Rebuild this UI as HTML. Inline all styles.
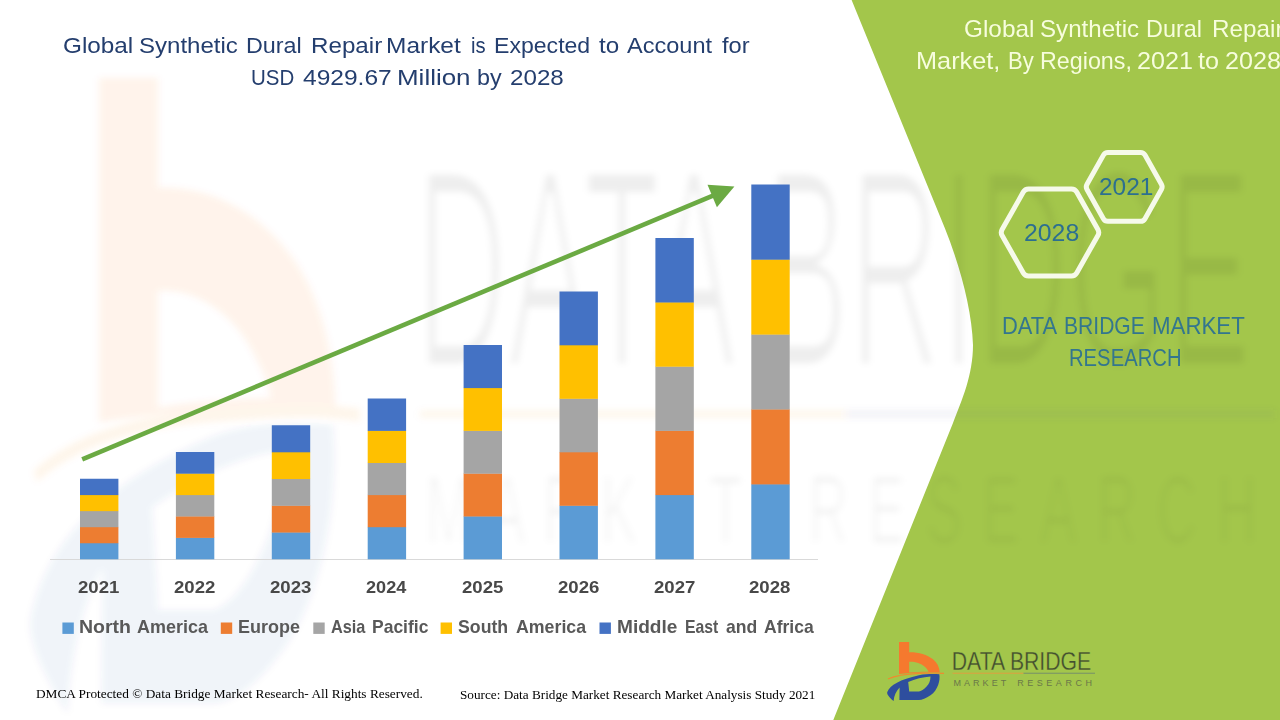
<!DOCTYPE html>
<html>
<head>
<meta charset="utf-8">
<title>Global Synthetic Dural Repair Market</title>
<style>
html,body{margin:0;padding:0;}
body{width:1280px;height:720px;position:relative;overflow:hidden;background:#fff;font-family:"Liberation Sans",sans-serif;}
#shapes{position:absolute;left:0;top:0;width:1280px;height:720px;}
.t{position:absolute;white-space:nowrap;line-height:1;transform-origin:0 0;margin:0;padding:0;}
.title{color:#243E6E;font-size:22.5px;}
.rtitle{color:#F7FDDD;font-size:23.2px;}
.hex{color:#2C6F90;font-size:23.8px;}
.dbmr{color:#33768E;font-size:23.7px;}
.yr{color:#484848;font-weight:bold;font-size:16.8px;}
.lg{color:#595959;font-weight:bold;font-size:17.8px;}
.ft{font-family:"Liberation Serif",serif;color:#000;font-size:13.33px;}
</style>
</head>
<body>
<svg id="shapes" width="1280" height="720" viewBox="0 0 1280 720">
  <defs>
    <filter id="wblur" x="-5%" y="-5%" width="110%" height="110%"><feGaussianBlur stdDeviation="0.6 0.3"/></filter>
    <filter id="thin2" x="-2%" y="-20%" width="104%" height="140%"><feMorphology operator="erode" radius="0.12 0.06"/></filter>
    <filter id="thin" x="-2%" y="-10%" width="104%" height="120%"><feMorphology operator="erode" radius="0.42 0.2"/></filter>
    <g id="mark">
      <!-- orange b -->
      <path fill="#F5792E" fill-rule="evenodd" d="M899,642 L909.2,642 L909.2,652.2 C918,652 927,654.4 933,659.2 C937,662.5 939.5,667 939.8,672.6 C928,672.4 912,672.9 899,674 Z M909.2,661.8 C915,661.5 921,663.5 924.5,666.5 C926.5,668.3 928,670 928.6,671.7 C921,671.8 915,672.1 909.2,672.6 Z"/>
      <path fill="none" stroke="#F08A2E" stroke-width="1.2" d="M888,679 C895,675.6 905,673.9 920,673.3 S938,672.9 944,673.3"/>
    </g>
    <g id="markB">
      <path fill="#2E4E9E" fill-rule="evenodd" d="M893.6,701.1 C889,697 886.5,694 887.3,691.9 C890,685 900,679.5 918.9,675.2 C926,673.9 933,673.9 939.3,674.2 C940.5,680 938,690 930.5,695.3 C926,698.5 922,700 918.9,700.1 L899.4,700.1 L899.6,687.5 C896,691 894,696 893.6,701.1 Z M908.2,681.9 C915,679.2 923,677.2 930.5,676.6 C930.5,681 929,684 926.6,686.5 C924,689.5 921,691 918.9,691.4 L909.2,691.4 Z"/>
    </g>
    <g id="marktext1">
      <text x="951.8" y="669.5" font-family="'Liberation Sans',sans-serif" font-size="26" textLength="139.35" lengthAdjust="spacingAndGlyphs">DATA BRIDGE</text>
    </g>
    <g id="marktext2">
      <text x="953.5" y="686" font-family="'Liberation Sans',sans-serif" font-size="9" textLength="52.7" lengthAdjust="spacing">MARKET</text>
      <text x="1017.3" y="686" font-family="'Liberation Sans',sans-serif" font-size="9" textLength="74.6" lengthAdjust="spacing">RESEARCH</text>
    </g>
  </defs>
  <!-- green panel -->
  <path d="M851.6,0 L944.8,228 C960,266 972,310 973,345 C973,375 962,400 953,423 L833.3,720 L1280,720 L1280,0 Z" fill="#A3C64B"/>
  <!-- watermark -->
  <g transform="matrix(5.8 0 0 10.77 -5115.2 -6836.5)" filter="url(#wblur)">
    <use href="#mark" opacity="0.08"/><use href="#markB" opacity="0.06"/>
  </g>
  <g transform="matrix(6 0 0 10.77 -5295 -6845.2)" filter="url(#wblur)">
    <g fill="#30302C" opacity="0.068"><g filter="url(#thin)"><use href="#marktext1"/></g></g>
    <g fill="#30302C" opacity="0.05"><g filter="url(#thin2)"><use href="#marktext2"/></g></g>
    <rect x="952.5" y="673.65" width="71" height="0.75" fill="#E08A2E" opacity="0.07"/>
    <rect x="1023.5" y="673.65" width="71.5" height="0.75" fill="#51678F" opacity="0.07"/>
  </g>
  <!-- axis -->
  <line x1="50" y1="559.5" x2="818" y2="559.5" stroke="#D9D9D9" stroke-width="1"/>
  <g>
    <rect x="80.0" y="542.95" width="38.4" height="16.35" fill="#5B9BD5"/>
    <rect x="80.0" y="526.90" width="38.4" height="16.35" fill="#ED7D31"/>
    <rect x="80.0" y="510.85" width="38.4" height="16.35" fill="#A5A5A5"/>
    <rect x="80.0" y="494.80" width="38.4" height="16.35" fill="#FFC000"/>
    <rect x="80.0" y="478.75" width="38.4" height="16.35" fill="#4472C4"/>
    <rect x="175.9" y="537.60" width="38.4" height="21.70" fill="#5B9BD5"/>
    <rect x="175.9" y="516.20" width="38.4" height="21.70" fill="#ED7D31"/>
    <rect x="175.9" y="494.80" width="38.4" height="21.70" fill="#A5A5A5"/>
    <rect x="175.9" y="473.40" width="38.4" height="21.70" fill="#FFC000"/>
    <rect x="175.9" y="452.00" width="38.4" height="21.70" fill="#4472C4"/>
    <rect x="271.8" y="532.25" width="38.4" height="27.05" fill="#5B9BD5"/>
    <rect x="271.8" y="505.50" width="38.4" height="27.05" fill="#ED7D31"/>
    <rect x="271.8" y="478.75" width="38.4" height="27.05" fill="#A5A5A5"/>
    <rect x="271.8" y="452.00" width="38.4" height="27.05" fill="#FFC000"/>
    <rect x="271.8" y="425.25" width="38.4" height="27.05" fill="#4472C4"/>
    <rect x="367.7" y="526.90" width="38.4" height="32.40" fill="#5B9BD5"/>
    <rect x="367.7" y="494.80" width="38.4" height="32.40" fill="#ED7D31"/>
    <rect x="367.7" y="462.70" width="38.4" height="32.40" fill="#A5A5A5"/>
    <rect x="367.7" y="430.60" width="38.4" height="32.40" fill="#FFC000"/>
    <rect x="367.7" y="398.50" width="38.4" height="32.40" fill="#4472C4"/>
    <rect x="463.6" y="516.20" width="38.4" height="43.10" fill="#5B9BD5"/>
    <rect x="463.6" y="473.40" width="38.4" height="43.10" fill="#ED7D31"/>
    <rect x="463.6" y="430.60" width="38.4" height="43.10" fill="#A5A5A5"/>
    <rect x="463.6" y="387.80" width="38.4" height="43.10" fill="#FFC000"/>
    <rect x="463.6" y="345.00" width="38.4" height="43.10" fill="#4472C4"/>
    <rect x="559.5" y="505.50" width="38.4" height="53.80" fill="#5B9BD5"/>
    <rect x="559.5" y="452.00" width="38.4" height="53.80" fill="#ED7D31"/>
    <rect x="559.5" y="398.50" width="38.4" height="53.80" fill="#A5A5A5"/>
    <rect x="559.5" y="345.00" width="38.4" height="53.80" fill="#FFC000"/>
    <rect x="559.5" y="291.50" width="38.4" height="53.80" fill="#4472C4"/>
    <rect x="655.4" y="494.80" width="38.4" height="64.50" fill="#5B9BD5"/>
    <rect x="655.4" y="430.60" width="38.4" height="64.50" fill="#ED7D31"/>
    <rect x="655.4" y="366.40" width="38.4" height="64.50" fill="#A5A5A5"/>
    <rect x="655.4" y="302.20" width="38.4" height="64.50" fill="#FFC000"/>
    <rect x="655.4" y="238.00" width="38.4" height="64.50" fill="#4472C4"/>
    <rect x="751.3" y="484.10" width="38.4" height="75.20" fill="#5B9BD5"/>
    <rect x="751.3" y="409.20" width="38.4" height="75.20" fill="#ED7D31"/>
    <rect x="751.3" y="334.30" width="38.4" height="75.20" fill="#A5A5A5"/>
    <rect x="751.3" y="259.40" width="38.4" height="75.20" fill="#FFC000"/>
    <rect x="751.3" y="184.50" width="38.4" height="75.20" fill="#4472C4"/>
  </g>
  <g>
    <rect x="62.4" y="622.5" width="11.4" height="11.4" fill="#5B9BD5"/>
    <rect x="220.8" y="622.5" width="11.4" height="11.4" fill="#ED7D31"/>
    <rect x="313.3" y="622.5" width="11.4" height="11.4" fill="#A5A5A5"/>
    <rect x="440.6" y="622.5" width="11.4" height="11.4" fill="#FFC000"/>
    <rect x="599.5" y="622.5" width="11.4" height="11.4" fill="#4472C4"/>
  </g>
  <!-- arrow -->
  <line x1="82.2" y1="459.4" x2="716" y2="194.4" stroke="#6BAA43" stroke-width="4.6"/>
  <polygon points="734.4,186.6 707.5,184.8 716.9,207.2" fill="#6BAA43"/>
  <!-- hexagons -->
  <path d="M1002.1,235.5 Q1000.4,232.5 1002.1,229.5 L1023.3,192.1 Q1025.0,189.1 1028.5,189.1 L1071.5,189.1 Q1075.0,189.1 1076.7,192.1 L1097.9,229.5 Q1099.6,232.5 1097.9,235.5 L1076.7,272.9 Q1075.0,275.9 1071.5,275.9 L1028.5,275.9 Q1025.0,275.9 1023.3,272.9 Z" fill="none" stroke="#F6FAEA" stroke-width="5" stroke-linejoin="round"/>
  <path d="M1087.0,189.5 Q1085.5,186.9 1087.0,184.3 L1103.4,155.1 Q1104.9,152.5 1107.9,152.5 L1140.5,152.5 Q1143.5,152.5 1145.0,155.1 L1161.4,184.3 Q1162.9,186.9 1161.4,189.5 L1145.0,218.7 Q1143.5,221.3 1140.5,221.3 L1107.9,221.3 Q1104.9,221.3 1103.4,218.7 Z" fill="none" stroke="#F6FAEA" stroke-width="5" stroke-linejoin="round"/>
  <!-- logo -->
  <use href="#mark"/><use href="#markB"/>
  <g fill="#434F30" stroke="#A3C64B" stroke-width="0.3" paint-order="fill stroke"><use href="#marktext1"/></g>
  <g fill="#6A7849"><use href="#marktext2"/></g>
  <rect x="952.5" y="672.7" width="71" height="1.1" fill="#D9A441"/>
  <rect x="1023.5" y="672.7" width="71.5" height="1.1" fill="#7A9568"/>
</svg>

<div class="t hex" id="tE" style="left:1024.26px;top:220.70px;transform:scaleX(1.0425);">2028</div>
<div class="t hex" id="tF" style="left:1098.97px;top:174.60px;transform:scaleX(1.0270);">2021</div>
<div class="t dbmr" id="tH" style="left:1069.35px;top:346.50px;transform:scaleX(0.8547);">RESEARCH</div>
<div class="t ft" id="f1" style="left:35.70px;top:687.30px;transform:scaleX(0.9996);">DMCA Protected © Data Bridge Market Research- All Rights Reserved.</div>
<div class="t ft" id="f2" style="left:460.30px;top:687.90px;transform:scaleX(0.9917);">Source: Data Bridge Market Research Market Analysis Study 2021</div>
<div class="t title" id="tA0" style="left:63.02px;top:35.30px;transform:scaleX(1.0803);">Global</div>
<div class="t title" id="tA1" style="left:139.18px;top:35.30px;transform:scaleX(1.0679);">Synthetic</div>
<div class="t title" id="tA2" style="left:245.56px;top:35.30px;transform:scaleX(1.0373);">Dural</div>
<div class="t title" id="tA3" style="left:311.03px;top:35.30px;transform:scaleX(1.0747);">Repair</div>
<div class="t title" id="tA4" style="left:386.01px;top:35.30px;transform:scaleX(1.0874);">Market</div>
<div class="t title" id="tA5" style="left:470.60px;top:35.30px;transform:scaleX(0.9001);">is</div>
<div class="t title" id="tA6" style="left:493.72px;top:35.30px;transform:scaleX(1.0255);">Expected</div>
<div class="t title" id="tA7" style="left:598.75px;top:35.30px;transform:scaleX(1.0766);">to</div>
<div class="t title" id="tA8" style="left:627.25px;top:35.30px;transform:scaleX(1.0463);">Account</div>
<div class="t title" id="tA9" style="left:722.10px;top:35.30px;transform:scaleX(1.0518);">for</div>
<div class="t title" id="tB0" style="left:251.04px;top:67.00px;transform:scaleX(0.9112);">USD</div>
<div class="t title" id="tB1" style="left:302.60px;top:67.00px;transform:scaleX(1.0913);">4929.67</div>
<div class="t title" id="tB2" style="left:396.65px;top:67.00px;transform:scaleX(1.1534);">Million</div>
<div class="t title" id="tB3" style="left:477.36px;top:67.00px;transform:scaleX(1.0377);">by</div>
<div class="t title" id="tB4" style="left:510.18px;top:67.00px;transform:scaleX(1.0744);">2028</div>
<div class="t rtitle" id="tC0" style="left:963.65px;top:18.20px;transform:scaleX(1.0497);">Global</div>
<div class="t rtitle" id="tC1" style="left:1039.81px;top:18.20px;transform:scaleX(1.0396);">Synthetic</div>
<div class="t rtitle" id="tC2" style="left:1146.19px;top:18.20px;transform:scaleX(1.0083);">Dural</div>
<div class="t rtitle" id="tC3" style="left:1211.65px;top:18.20px;transform:scaleX(1.0461);">Repair</div>
<div class="t rtitle" id="tD0" style="left:916.31px;top:50.00px;transform:scaleX(1.0913);">Market,</div>
<div class="t rtitle" id="tD1" style="left:1007.75px;top:50.00px;transform:scaleX(0.9522);">By</div>
<div class="t rtitle" id="tD2" style="left:1039.60px;top:50.00px;transform:scaleX(1.0048);">Regions,</div>
<div class="t rtitle" id="tD3" style="left:1136.72px;top:50.00px;transform:scaleX(1.0848);">2021</div>
<div class="t rtitle" id="tD4" style="left:1198.40px;top:50.00px;transform:scaleX(1.0845);">to</div>
<div class="t rtitle" id="tD5" style="left:1224.72px;top:50.00px;transform:scaleX(1.0848);">2028</div>
<div class="t dbmr" id="tG0" style="left:1002.17px;top:314.70px;transform:scaleX(0.9260);">DATA</div>
<div class="t dbmr" id="tG1" style="left:1064.41px;top:314.70px;transform:scaleX(0.8897);">BRIDGE</div>
<div class="t dbmr" id="tG2" style="left:1152.16px;top:314.70px;transform:scaleX(0.9400);">MARKET</div>
<div class="t lg" id="l10" style="left:78.70px;top:619.30px;transform:scaleX(1.0968);">North</div>
<div class="t lg" id="l11" style="left:136.70px;top:619.30px;transform:scaleX(1.0108);">America</div>
<div class="t lg" id="l20" style="left:237.79px;top:619.30px;transform:scaleX(1.0105);">Europe</div>
<div class="t lg" id="l30" style="left:331.00px;top:619.30px;transform:scaleX(0.9158);">Asia</div>
<div class="t lg" id="l31" style="left:372.02px;top:619.30px;transform:scaleX(0.9833);">Pacific</div>
<div class="t lg" id="l40" style="left:458.40px;top:619.30px;transform:scaleX(0.9959);">South</div>
<div class="t lg" id="l41" style="left:515.80px;top:619.30px;transform:scaleX(0.9987);">America</div>
<div class="t lg" id="l50" style="left:616.83px;top:619.30px;transform:scaleX(1.0737);">Middle</div>
<div class="t lg" id="l51" style="left:684.61px;top:619.30px;transform:scaleX(0.8871);">East</div>
<div class="t lg" id="l52" style="left:725.60px;top:619.30px;transform:scaleX(0.9886);">and</div>
<div class="t lg" id="l53" style="left:764.10px;top:619.30px;transform:scaleX(0.9859);">Africa</div>
<div class="t yr" id="y1" style="left:78.10px;top:580.20px;transform:scaleX(1.1081);">2021</div>
<div class="t yr" id="y2" style="left:174.00px;top:580.20px;transform:scaleX(1.1081);">2022</div>
<div class="t yr" id="y3" style="left:269.90px;top:580.20px;transform:scaleX(1.1081);">2023</div>
<div class="t yr" id="y4" style="left:365.80px;top:580.20px;transform:scaleX(1.0790);">2024</div>
<div class="t yr" id="y5" style="left:461.70px;top:580.20px;transform:scaleX(1.1081);">2025</div>
<div class="t yr" id="y6" style="left:557.60px;top:580.20px;transform:scaleX(1.1081);">2026</div>
<div class="t yr" id="y7" style="left:653.50px;top:580.20px;transform:scaleX(1.1081);">2027</div>
<div class="t yr" id="y8" style="left:749.40px;top:580.20px;transform:scaleX(1.1081);">2028</div>
</body>
</html>
